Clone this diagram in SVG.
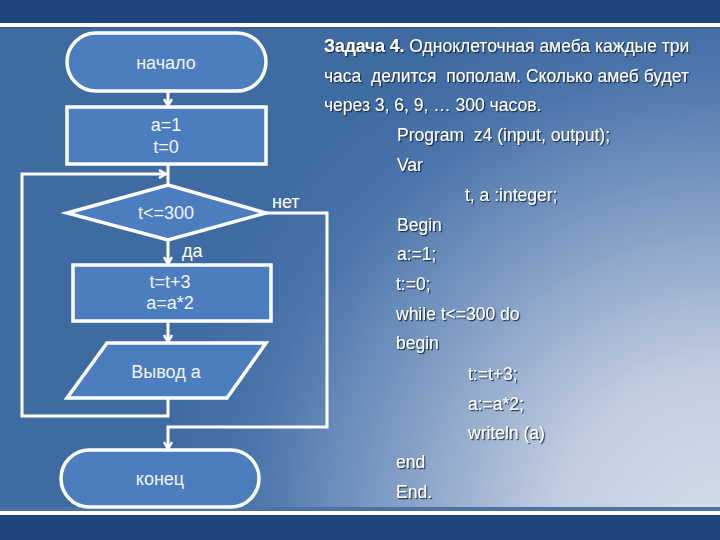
<svg xmlns="http://www.w3.org/2000/svg" width="720" height="540" viewBox="0 0 720 540">
<defs>
<radialGradient id="bg" cx="720" cy="540" r="560" gradientUnits="userSpaceOnUse">
<stop offset="0" stop-color="#d6deeb"/>
<stop offset="0.3" stop-color="#c2cde0"/>
<stop offset="0.6" stop-color="#7f9cc4"/>
<stop offset="0.85" stop-color="#4a74aa"/>
<stop offset="1" stop-color="#3f6ba3"/>
</radialGradient>
<filter id="sh" x="-5%" y="-30%" width="110%" height="160%">
<feDropShadow dx="1.2" dy="1.2" stdDeviation="0.4" flood-color="#14233a" flood-opacity="0.9"/>
</filter>
<marker id="arr" markerWidth="10" markerHeight="10" refX="8" refY="5" orient="auto" markerUnits="userSpaceOnUse">
<path d="M1,1 L8,5 L1,9" fill="none" stroke="#ffffff" stroke-width="2.5"/>
</marker>
<style>
.node{fill:#4b7dbf;stroke:#ffffff;stroke-width:3.5}
.ft{font-family:"Liberation Sans",Arial,sans-serif;font-size:18px;fill:#f2f5fa;text-anchor:middle}
.lbl{font-family:"Liberation Sans",Arial,sans-serif;font-size:18px;fill:#ffffff}
.con{fill:none;stroke:#ffffff;stroke-width:3}
.tx{font-family:"Liberation Sans",Arial,sans-serif;font-size:17.5px;fill:#ffffff;filter:url(#sh)}
</style>
</defs>
<rect x="0" y="0" width="720" height="540" fill="url(#bg)"/>
<rect x="0" y="0" width="720" height="23" fill="#1f477c"/>
<rect x="0" y="23" width="720" height="4" fill="#ffffff"/>
<rect x="0" y="27" width="720" height="1.5" fill="#3a5f90"/>
<rect x="0" y="507" width="720" height="4" fill="#4b73a6"/>
<rect x="0" y="511" width="720" height="4" fill="#ffffff"/>
<rect x="0" y="515" width="720" height="25" fill="#1f477c"/>

<g id="connectors">
<line class="con" x1="168" y1="91" x2="168" y2="106" marker-end="url(#arr)"/>
<line class="con" x1="168" y1="164" x2="168" y2="185"/>
<polyline class="con" points="168,398 168,416 22,416 22,174 166,174" marker-end="url(#arr)"/>
<line class="con" x1="168" y1="240" x2="168" y2="264" marker-end="url(#arr)"/>
<line class="con" x1="168" y1="321" x2="168" y2="342" marker-end="url(#arr)"/>
<polyline class="con" points="266,213 327,213 327,427 168,427 168,449" marker-end="url(#arr)"/>
<text class="lbl" x="272" y="208">нет</text>
<text class="lbl" x="182" y="257">да</text>
</g>

<g id="start">
<rect class="node" x="67" y="33" width="199" height="58" rx="29" ry="29"/>
<text class="ft" x="166" y="69">начало</text>
</g>
<g id="init">
<rect class="node" x="67" y="107" width="199" height="57"/>
<text class="ft" x="166" y="131">a=1</text>
<text class="ft" x="166" y="153">t=0</text>
</g>
<g id="cond">
<polygon class="node" points="168,185 266,213 168,240 67,213"/>
<text class="ft" x="166" y="219">t&lt;=300</text>
</g>
<g id="body">
<rect class="node" x="73" y="265" width="198" height="56"/>
<text class="ft" x="170" y="288">t=t+3</text>
<text class="ft" x="170" y="309">a=a*2</text>
</g>
<g id="output">
<polygon class="node" points="107,343 266,343 227,398 67,398"/>
<text class="ft" x="166" y="378">Вывод a</text>
</g>
<g id="end">
<rect class="node" x="61" y="450" width="198" height="57" rx="28.5" ry="28.5"/>
<text class="ft" x="160" y="485">конец</text>
</g>

<g id="task">
<text class="tx" x="324" y="52"><tspan font-weight="bold">Задача 4.</tspan> Одноклеточная амеба каждые три</text>
<text class="tx" x="324" y="82" xml:space="preserve">часа  делится  пополам. Сколько амеб будет</text>
<text class="tx" x="324" y="111">через 3, 6, 9, … 300 часов.</text>
<text class="tx" x="397" y="141" xml:space="preserve">Program  z4 (input, output);</text>
<text class="tx" x="397" y="171">Var</text>
<text class="tx" x="465" y="201">t, a :integer;</text>
<text class="tx" x="397" y="231">Begin</text>
<text class="tx" x="397" y="260">a:=1;</text>
<text class="tx" x="396" y="290">t:=0;</text>
<text class="tx" x="396" y="320">while t&lt;=300 do</text>
<text class="tx" x="396" y="349">begin</text>
<text class="tx" x="468" y="380">t:=t+3;</text>
<text class="tx" x="468" y="410">a:=a*2;</text>
<text class="tx" x="468" y="439">writeln (a)</text>
<text class="tx" x="396" y="468">end</text>
<text class="tx" x="396" y="498">End.</text>
</g>
</svg>
